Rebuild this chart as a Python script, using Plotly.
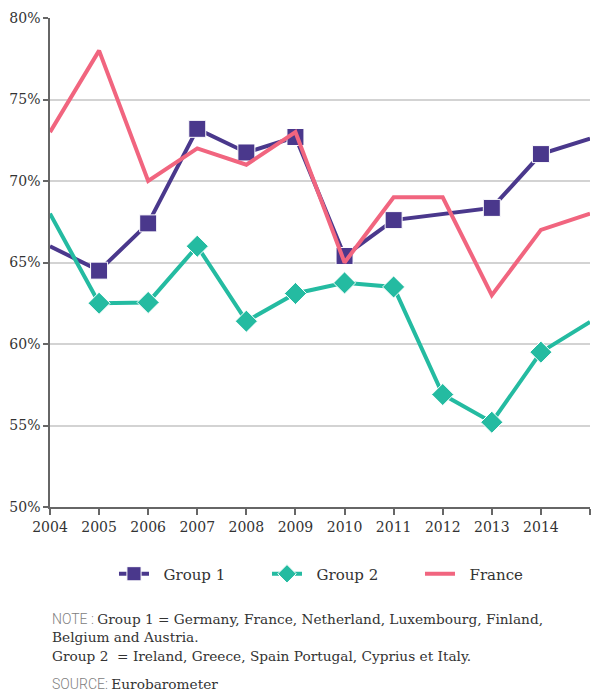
import plotly.graph_objects as go

# data (share of respondents, %)
years = [2004, 2005, 2006, 2007, 2008, 2009, 2010, 2011, 2012, 2013, 2014, 2015]
group1 = [66.0, 64.5, 67.4, 73.2, 71.75, 72.7, 65.4, 67.6, None, 68.35, 71.65, 72.6]
group2 = [68.0, 62.5, 62.55, 66.0, 61.4, 63.1, 63.75, 63.5, 56.9, 55.2, 59.5, 61.35]
france = [73.0, 78.0, 70.0, 72.0, 71.0, 73.0, 65.0, 69.0, 69.0, 63.0, 67.0, 68.0]

y_ticks = [50, 55, 60, 65, 70, 75, 80]
x_ticks = years
x_labels = [str(y) for y in years[:-1]] + [""]

PURPLE = "#4a388c"
TEAL = "#24bba1"
PINK = "#f1657f"
SERIF = "DejaVu Serif"
PAD = "\u00a0\u00a0"  # a bit more room between legend symbol and text

# no markers on the first / last point (they sit on the plot edges)
def edge_sizes(n, s):
    return [0] + [s] * (n - 2) + [0]

fig = go.Figure()
fig.add_trace(go.Scatter(
    x=years, y=group1, name=PAD + "Group 1", mode="lines+markers", connectgaps=True,
    line=dict(color=PURPLE, width=4),
    marker=dict(symbol="square", size=edge_sizes(len(years), 17), color=PURPLE, opacity=1),
))
fig.add_trace(go.Scatter(
    x=years, y=group2, name=PAD + "Group 2", mode="lines+markers",
    line=dict(color=TEAL, width=4),
    marker=dict(symbol="diamond", size=edge_sizes(len(years), 17), color=TEAL, opacity=1),
))
fig.add_trace(go.Scatter(
    x=years, y=france, name=PAD + "France", mode="lines",
    line=dict(color=PINK, width=4),
))

# plot area spans pixel rows 18..507 of a 691px page
top, bottom, H = 18, 184, 691
ph = H - top - bottom
def ypix(py):
    return (H - bottom - py) / ph

note_font = dict(family=SERIF, size=13.7, color="#333333")
lab = '<span style="font-family:Roboto;font-weight:300;font-size:14px;color:#808080">%s</span>'
notes = [
    (619, lab % "NOTE : " + "Group 1 = Germany, France, Netherland, Luxembourg, Finland,"),
    (637, "Belgium and Austria."),
    (656, "Group 2  = Ireland, Greece, Spain Portugal, Cyprius et Italy."),
    (684, lab % "SOURCE: " + "Eurobarometer"),
]
for py, txt in notes:
    fig.add_annotation(text=txt, xref="paper", yref="paper", x=0, y=ypix(py),
                       xanchor="left", yanchor="middle", showarrow=False,
                       font=note_font, align="left")

fig.update_xaxes(
    range=[2004, 2015], tickvals=x_ticks, ticktext=x_labels,
    showgrid=False, showline=True, linecolor="#666666", linewidth=1.5,
    ticks="outside", ticklen=6, tickcolor="#666666", tickwidth=1.5,
    tickfont=dict(family=SERIF, size=14, color="#333333"), zeroline=False,
)
fig.update_yaxes(
    range=[50, 80], tickvals=y_ticks, ticktext=[f"{v}%" for v in y_ticks],
    showgrid=True, gridcolor="#d3d3d3", gridwidth=1.5,
    showline=True, linecolor="#666666", linewidth=1.5,
    ticks="outside", ticklen=5, tickcolor="#666666", tickwidth=1.5,
    tickfont=dict(family=SERIF, size=14, color="#333333"), zeroline=False,
)
fig.update_layout(
    width=591, height=691,
    margin=dict(l=50, r=1, t=top, b=bottom),
    plot_bgcolor="white", paper_bgcolor="white",
    showlegend=True,
    legend=dict(orientation="h", x=0.1185, xanchor="left", y=ypix(574), yanchor="middle",
                font=dict(family=SERIF, size=15, color="#333333"),
                entrywidth=108, itemwidth=30),
)

fig.write_html("out.html", config={"displayModeBar": False},
               post_script="document.body.style.margin='0';")
